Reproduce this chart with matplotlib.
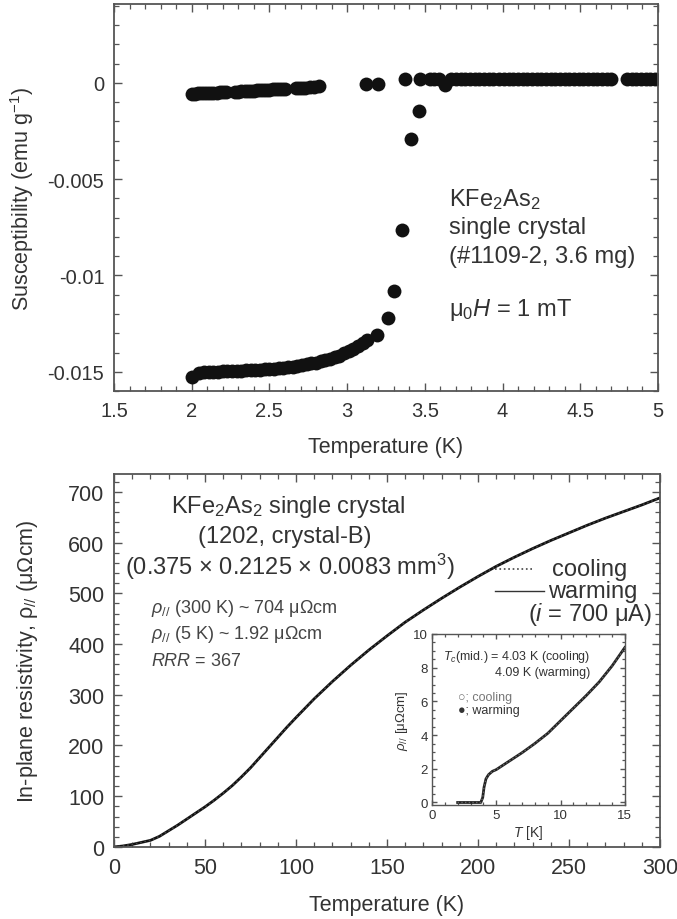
import numpy as np
import matplotlib
matplotlib.use("Agg")
import matplotlib.pyplot as plt
from matplotlib.ticker import MultipleLocator, FixedLocator

plt.rcParams['font.family'] = ['Liberation Sans', 'DejaVu Sans']
plt.rcParams['mathtext.fontset'] = 'custom'
plt.rcParams['mathtext.rm'] = 'Liberation Sans'
plt.rcParams['mathtext.it'] = 'Liberation Sans:italic'

TXT = '#333333'
SPN = '#555555'

# ---- top panel data : susceptibility (emu/g) vs T (K)
T_zfc = [2.00, 2.05, 2.08, 2.11, 2.14, 2.17, 2.20, 2.23, 2.26, 2.29, 2.32, 2.35,
         2.38, 2.41, 2.44, 2.47, 2.50, 2.53, 2.56, 2.59, 2.62, 2.65, 2.68, 2.71,
         2.74, 2.77, 2.80, 2.83, 2.86, 2.89, 2.92, 2.95, 2.98, 3.01, 3.04, 3.07,
         3.10, 3.13, 3.19, 3.26, 3.30, 3.35, 3.41, 3.46]
chi_zfc = [-0.01526, -0.01508, -0.01503, -0.01502, -0.01500, -0.01499, -0.01498,
           -0.01497, -0.01496, -0.01495, -0.01494, -0.01493, -0.01492, -0.01491,
           -0.01490, -0.01488, -0.01486, -0.01484, -0.01482, -0.01479, -0.01476,
           -0.01473, -0.01470, -0.01466, -0.01462, -0.01457, -0.01452, -0.01446,
           -0.01440, -0.01433, -0.01425, -0.01416, -0.01405, -0.01393, -0.01380,
           -0.01366, -0.01350, -0.01333, -0.01310, -0.01220, -0.01082, -0.00762,
           -0.00290, -0.00147]

T_fc = [2.00, 2.02, 2.04, 2.06, 2.08, 2.10, 2.12, 2.14, 2.16, 2.18, 2.20, 2.22,
        2.28, 2.30, 2.32, 2.34, 2.36, 2.38, 2.40, 2.42, 2.44, 2.46, 2.48, 2.50,
        2.52, 2.54, 2.56, 2.58, 2.60, 2.67, 2.69, 2.71, 2.73, 2.76, 2.79, 2.82,
        3.12, 3.20,
        3.37, 3.47, 3.53, 3.56, 3.59, 3.63, 3.67, 3.70, 3.73, 3.76, 3.79, 3.82,
        3.85, 3.88, 3.91, 3.94, 3.98, 4.01, 4.04, 4.07, 4.10, 4.13, 4.16, 4.19,
        4.22, 4.25, 4.28, 4.31, 4.34, 4.37, 4.40, 4.43, 4.46, 4.49, 4.52, 4.55,
        4.58, 4.61, 4.64, 4.67, 4.70, 4.80, 4.83, 4.86, 4.89, 4.92, 4.95, 4.98]
chi_fc = [-0.00055, -0.00056, -0.00054, -0.00053, -0.00052, -0.00052, -0.00051,
          -0.00050, -0.00050, -0.00049, -0.00049, -0.00048, -0.00046, -0.00045,
          -0.00044, -0.00043, -0.00042, -0.00041, -0.00040, -0.00039, -0.00038,
          -0.00037, -0.00036, -0.00035, -0.00034, -0.00033, -0.00032, -0.00031,
          -0.00030, -0.00027, -0.00026, -0.00025, -0.00024, -0.00022, -0.00020,
          -0.00017,
          -0.00005, -0.00005,
          0.00018, 0.00018, 0.00019, 0.00019, 0.00020, -0.00010, 0.00019, 0.00020,
          0.00020, 0.00020, 0.00020, 0.00020, 0.00020, 0.00020, 0.00020, 0.00021,
          0.00020, 0.00021, 0.00021, 0.00021, 0.00021, 0.00021, 0.00021, 0.00021,
          0.00021, 0.00021, 0.00021, 0.00021, 0.00021, 0.00021, 0.00021, 0.00021,
          0.00021, 0.00021, 0.00021, 0.00021, 0.00021, 0.00021, 0.00021, 0.00021,
          0.00021, 0.00021, 0.00021, 0.00021, 0.00021, 0.00021, 0.00021, 0.00021]

top_xticks = [1.5, 2, 2.5, 3, 3.5, 4, 4.5, 5]
top_xlabels = ['1.5', '2', '2.5', '3', '3.5', '4', '4.5', '5']
top_yticks = [0, -0.005, -0.01, -0.015]
top_ylabels = ['0', '-0.005', '-0.01', '-0.015']

# ---- bottom panel data : in-plane resistivity (uOhm cm) vs T (K)
T_rho = [0, 5, 10, 15, 20, 25, 30, 35, 40, 45, 50, 55, 60, 65, 70, 75, 80, 85,
         90, 95, 100, 110, 120, 130, 140, 150, 160, 170, 180, 190, 200, 210, 220,
         230, 240, 250, 260, 270, 280, 290, 300]
rho_warm = [0, 2, 5, 9, 13, 21, 32, 43, 55, 67, 79, 92, 106, 121, 138, 156, 176,
            196, 216, 236, 255, 292, 326, 358, 388, 416, 443, 467, 490, 512, 533,
            553, 571, 588, 604, 619, 634, 648, 661, 674, 688]
rho_cool = [0, 2, 5, 9, 13, 21, 32, 43, 55, 67, 79, 92, 106, 121, 138, 156, 176,
            196, 216, 236, 255, 292, 326, 358, 388, 416, 443, 467, 490, 512, 533,
            553, 571, 588, 604, 619, 634, 648, 661, 674, 688]

# inset, low temperature
T_in = [2.0, 2.5, 3.0, 3.5, 3.8, 3.95, 4.05, 4.2, 4.4, 4.7, 5.0, 6.0, 7.0, 8.0,
        9.0, 10.0, 11.0, 12.0, 13.0, 14.0, 15.0]
rho_in = [0, 0, 0, 0, 0, 0.3, 0.9, 1.4, 1.65, 1.85, 1.95, 2.45, 2.95, 3.5, 4.1,
          4.85, 5.6, 6.35, 7.15, 8.1, 9.2]


def style(ax, lw=1.3, maj=6, mino=3.5, fs=14):
    for s in ax.spines.values():
        s.set_color(SPN)
        s.set_linewidth(lw)
    ax.tick_params(which='both', direction='in', top=True, right=True,
                   color=SPN, labelcolor=TXT, labelsize=fs)
    ax.tick_params(which='major', length=maj, width=1.0, pad=7)
    ax.tick_params(which='minor', length=mino, width=0.9)


fig = plt.figure(figsize=(6.77, 9.2), dpi=100)

# ================= top panel
ax1 = fig.add_axes([0.1684, 0.5739, 0.8035, 0.4207])
ax1.plot(T_zfc, chi_zfc, 'o', color='#111111', ms=10, mew=0)
ax1.plot(T_fc, chi_fc, 'o', color='#111111', ms=10, mew=0)
ax1.set_xlim(1.5, 5)
ax1.set_ylim(-0.016, 0.0041)
ax1.xaxis.set_major_locator(FixedLocator(top_xticks))
ax1.set_xticklabels(top_xlabels)
ax1.yaxis.set_major_locator(FixedLocator(top_yticks))
ax1.set_yticklabels(top_ylabels)
ax1.xaxis.set_minor_locator(MultipleLocator(0.1))
ax1.yaxis.set_minor_locator(MultipleLocator(0.001))
style(ax1, fs=14.5)
ax1.set_xlabel('Temperature (K)', fontsize=15.5, color=TXT, labelpad=12)
ax1.set_ylabel('Susceptibility (emu g$^{-1}$)', fontsize=15.5, color=TXT, labelpad=8)

kw = dict(transform=ax1.transAxes, fontsize=17, color=TXT, va='center', ha='left')
ax1.text(0.616, 0.496, 'KFe$_2$As$_2$', **kw)
ax1.text(0.616, 0.424, 'single crystal', **kw)
ax1.text(0.616, 0.349, '(#1109-2, 3.6 mg)', **kw)
ax1.text(0.616, 0.212, 'μ$_0$$H$ = 1 mT', **kw)

# ================= bottom panel
ax2 = fig.add_axes([0.1684, 0.0783, 0.8065, 0.4054])
ax2.plot(T_rho, rho_warm, '-', color='#111111', lw=2.0)
ax2.plot(T_rho, rho_cool, ':', color='#444444', lw=1.2)
ax2.set_xlim(0, 300)
ax2.set_ylim(0, 735)
ax2.xaxis.set_major_locator(MultipleLocator(50))
ax2.xaxis.set_minor_locator(MultipleLocator(10))
ax2.yaxis.set_major_locator(MultipleLocator(100))
ax2.yaxis.set_minor_locator(MultipleLocator(20))
style(ax2, fs=15.5)
ax2.set_xlabel('Temperature (K)', fontsize=15.5, color=TXT, labelpad=12)
ax2.set_ylabel('In-plane resistivity, ρ$_{//}$ (μΩcm)', fontsize=15.5, color=TXT,
               labelpad=20)

kw = dict(transform=ax2.transAxes, fontsize=17, color=TXT, va='center', ha='center')
ax2.text(0.32, 0.914, 'KFe$_2$As$_2$ single crystal', **kw)
ax2.text(0.313, 0.834, '(1202, crystal-B)', **kw)
ax2.text(0.322, 0.753, '(0.375 × 0.2125 × 0.0083 mm$^3$)', **kw)

kw = dict(transform=ax2.transAxes, fontsize=13, color='#444444', va='center', ha='left')
ax2.text(0.068, 0.643, '$ρ_{//}$ (300 K) ~ 704 μΩcm', **kw)
ax2.text(0.068, 0.571, '$ρ_{//}$ (5 K) ~ 1.92 μΩcm', **kw)
ax2.text(0.068, 0.499, '$RRR$ = 367', **kw)

# legend drawn by hand
ax2.plot([0.698, 0.767], [0.745, 0.745], ':', color='#444444', lw=1.2,
         transform=ax2.transAxes)
ax2.plot([0.698, 0.788], [0.686, 0.686], '-', color='#333333', lw=1.0,
         transform=ax2.transAxes)
kw = dict(transform=ax2.transAxes, fontsize=17, color=TXT, va='center')
ax2.text(0.802, 0.745, 'cooling', ha='left', **kw)
ax2.text(0.795, 0.686, 'warming', ha='left', **kw)
ax2.text(0.985, 0.625, '($i$ = 700 μA)', ha='right', **kw)

# ================= inset
ax3 = fig.add_axes([0.638, 0.1239, 0.285, 0.1859])
ax3.plot(T_in, rho_in, '-', color='#222222', lw=2.0)
ax3.plot(T_in, rho_in, ':', color='#666666', lw=1.0)
ax3.set_xlim(0, 15)
ax3.set_ylim(-0.15, 10)
ax3.xaxis.set_major_locator(MultipleLocator(5))
ax3.xaxis.set_minor_locator(MultipleLocator(1))
ax3.yaxis.set_major_locator(MultipleLocator(2))
ax3.yaxis.set_minor_locator(MultipleLocator(0.5))
style(ax3, lw=1.0, maj=3.5, mino=2, fs=9.5)
ax3.tick_params(which='major', pad=3)
ax3.set_xlabel('$T$ [K]', fontsize=10, color=TXT, labelpad=1)
ax3.set_ylabel('$ρ_{//}$ [μΩcm]', fontsize=9.5, color=TXT, labelpad=2)

kw = dict(transform=ax3.transAxes, fontsize=9, color=TXT, va='center')
ax3.text(0.82, 0.871, '$T_c$(mid.) = 4.03 K (cooling)', ha='right', **kw)
ax3.text(0.82, 0.778, '4.09 K (warming)', ha='right', **kw)
ax3.text(0.135, 0.632, '○; cooling', ha='left', color='#777777',
         transform=ax3.transAxes, fontsize=9, va='center')
ax3.text(0.135, 0.556, '●; warming', ha='left', **kw)

fig.savefig('out.png', dpi=100)
